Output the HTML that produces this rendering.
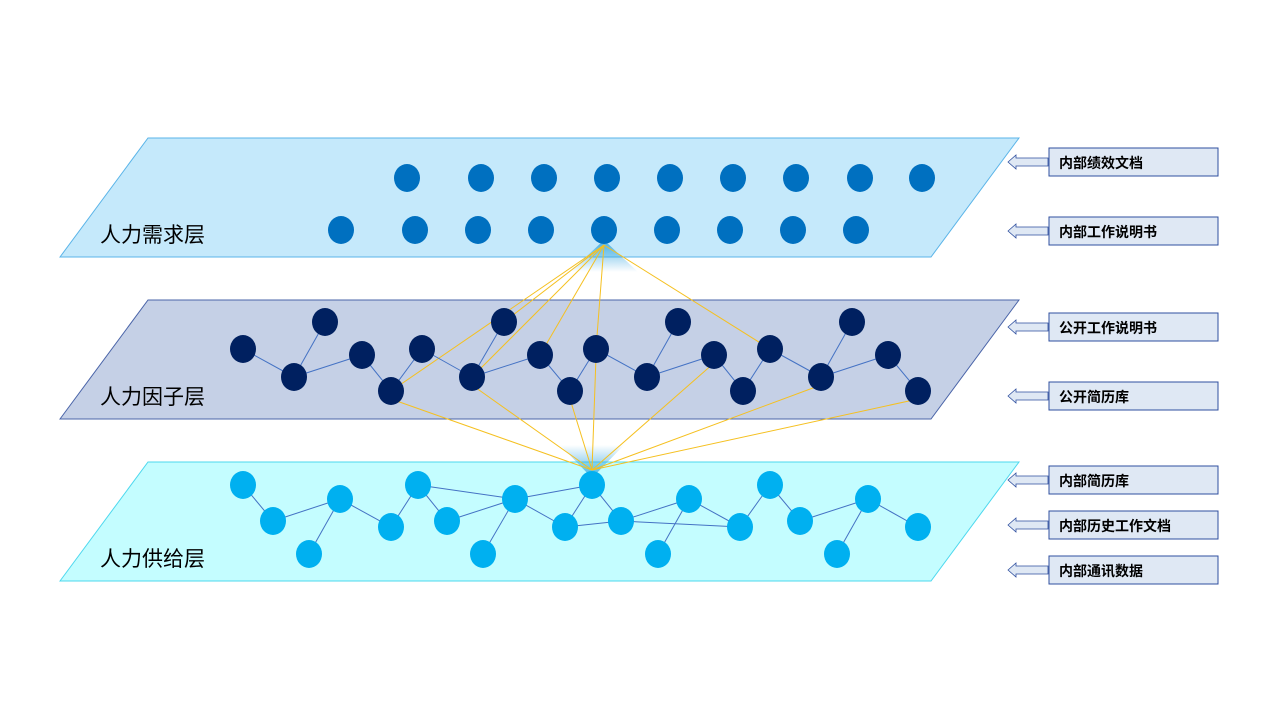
<!DOCTYPE html>
<html><head><meta charset="utf-8"><style>
body{margin:0;background:#fff;width:1280px;height:720px;overflow:hidden}
svg{display:block}
text{font-family:"Liberation Sans","Noto Sans CJK SC",sans-serif}
</style></head><body>
<svg id="s" width="1280" height="720" xmlns="http://www.w3.org/2000/svg">
<defs>
<linearGradient id="cone" x1="0" y1="0" x2="0" y2="1">
<stop offset="0" stop-color="#3aa8e0" stop-opacity="0.9"/><stop offset="1" stop-color="#3aa8e0" stop-opacity="0"/></linearGradient>
<linearGradient id="cone2" x1="0" y1="1" x2="0" y2="0">
<stop offset="0" stop-color="#3aa8e0" stop-opacity="0.9"/><stop offset="1" stop-color="#3aa8e0" stop-opacity="0"/></linearGradient>
</defs>
<polygon points="60,257 148,138 1019,138 931,257" fill="#c5e9fb" stroke="#5ab4e8"/>
<polygon points="60,419 148,300 1019,300 931,419" fill="#c5d0e6" stroke="#4a64a8"/>
<polygon points="60,581 148,462 1019,462 931,581" fill="#c4fdff" stroke="#4dd8ee"/>
<polygon points="604,240 570,272 638,272" fill="url(#cone)"/>
<polygon points="592,478 560,445 624,445" fill="url(#cone2)"/>
<g id="yl"></g><g id="ed"></g><g id="nd"></g>
<text x="100" y="242" font-size="21" fill="#000">人力需求层</text>
<text x="100" y="404" font-size="21" fill="#000">人力因子层</text>
<text x="100" y="566" font-size="21" fill="#000">人力供给层</text>
<g id="bx"></g>
</svg>
<script>
const topNodes=[[407,178],[481,178],[544,178],[607,178],[670,178],[733,178],[796,178],[860,178],[922,178],[341,230],[415,230],[478,230],[541,230],[604,230],[667,230],[730,230],[793,230],[856,230]];
const midNodes=[[243,349],[294,377],[325,322],[362,355],[391,391],[422,349],[472,377],[504,322],[540,355],[570,391],[596,349],[647,377],[678,322],[714,355],[743,391],[770,349],[821,377],[852,322],[888,355],[918,391]];
const midEdges=[[0,1],[1,2],[1,3],[3,4],[4,5],[5,6],[6,7],[6,8],[8,9],[9,10],[10,11],[11,12],[11,13],[13,14],[14,15],[15,16],[16,17],[16,18],[18,19]];
const botNodes=[[243,485],[273,521],[309,554],[340,499],[391,527],[418,485],[447,521],[483,554],[515,499],[565,527],[592,485],[621,521],[658,554],[689,499],[740,527],[770,485],[800,521],[837,554],[868,499],[918,527]];
const botEdges=[[0,1],[1,3],[3,2],[3,4],[4,5],[5,6],[6,8],[5,8],[8,7],[8,9],[8,10],[10,9],[10,11],[11,13],[13,12],[13,14],[9,11],[11,14],[15,14],[15,16],[16,18],[18,17],[18,19]];
const upLinks=[4,6,7,10,8,15];
const downLinks=[4,6,9,10,13,16,19];
const labels=[["内部绩效文档",148],["内部工作说明书",217],["公开工作说明书",313],["公开简历库",382],["内部简历库",466],["内部历史工作文档",511],["内部通讯数据",556]];
const NS="http://www.w3.org/2000/svg";
function mk(t,a,p){const e=document.createElementNS(NS,t);for(const k in a)e.setAttribute(k,a[k]);p.appendChild(e);return e;}
const yl=document.getElementById('yl'),ed=document.getElementById('ed'),nd=document.getElementById('nd'),bx=document.getElementById('bx');
const apexT=[604,245],apexB=[592,470];
upLinks.forEach(i=>{const n=midNodes[i];const l=mk('line',{x1:apexT[0],y1:apexT[1],x2:n[0],y2:n[1],stroke:'#f5c020','stroke-width':1},yl);

});
downLinks.forEach(i=>{const n=midNodes[i];const l=mk('line',{x1:n[0],y1:n[1]+8,x2:apexB[0],y2:apexB[1],stroke:'#f5c020','stroke-width':1},yl);

});
function edges(ns,es,name){es.forEach(e=>{const a=ns[e[0]],b=ns[e[1]];const l=mk('line',{x1:a[0],y1:a[1],x2:b[0],y2:b[1],stroke:'#4472c4','stroke-width':1},ed);

});}
edges(midNodes,midEdges,'factor-edge');edges(botNodes,botEdges,'supply-edge');
function nodes(ns,c,name){ns.forEach(n=>{const e=mk('ellipse',{cx:n[0],cy:n[1],rx:13,ry:14,fill:c},nd);

});}
nodes(topNodes,'#0070c0','demand-node');nodes(midNodes,'#002060','factor-node');nodes(botNodes,'#00b0f0','supply-node');
labels.forEach(l=>{const y=l[1];
const g=mk('g',{},bx);


const ar=mk('polygon',{points:`1008,${y+14} 1016,${y+7} 1016,${y+10} 1048,${y+10} 1048,${y+18} 1016,${y+18} 1016,${y+21}`,fill:'#dfe8f4',stroke:'#2f4f9f','stroke-width':0.8},g);


mk('rect',{x:1049,y:y,width:169,height:28,fill:'#dfe8f4',stroke:'#2f4f9f','stroke-width':1},g);
const t=mk('text',{x:1059,y:y+20,'font-size':14,'font-weight':'bold',fill:'#000'},g);t.textContent=l[0];

});
</script>
</body></html>
